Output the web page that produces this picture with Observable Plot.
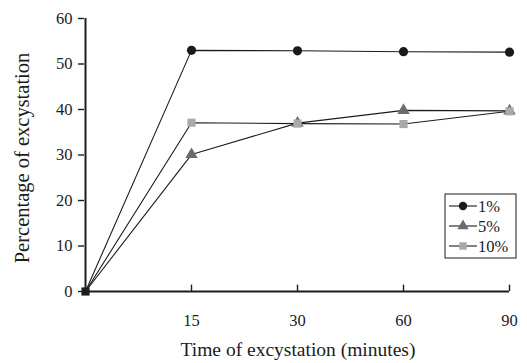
<!DOCTYPE html>
<html>
<head>
<meta charset="utf-8">
<script src="https://cdn.jsdelivr.net/npm/d3@7"></script>
<script src="https://cdn.jsdelivr.net/npm/@observablehq/plot@0.6"></script>
<style>
  html, body { margin: 0; padding: 0; background: #fff; }
  #chart { position: relative; width: 527px; height: 363px; }
  #chart svg text { font-family: "Liberation Serif", "Times New Roman", serif; }
</style>
</head>
<body>
<div id="chart"></div>
<script>
const times = ["0", "15", "30", "60", "90"];
const pct1 = [0, 53.0, 52.9, 52.7, 52.6];
const pct5 = [0, 30.1, 37.0, 39.8, 39.7];
const pct10 = [0, 37.1, 36.9, 36.8, 39.6];
const seriesNames = ["1%", "5%", "10%"];
const yTicks = [0, 10, 20, 30, 40, 50, 60];
const xTickLabels = ["15", "30", "60", "90"];

const seriesValues = [pct1, pct5, pct10];
const symbols = ["circle", "triangle", "square"];
const fills = ["#1a1a1a", "#6b6b6b", "#a9a9a9"];

const rows = [];
seriesNames.forEach((s, i) => {
  times.forEach((t, j) => rows.push({series: s, time: t, value: seriesValues[i][j]}));
});
const nonZero = rows.filter(d => d.time !== "0");
const origin = rows.filter(d => d.time === "0").slice(0, 1);

const ink = "#1c1c1c";
const serif = "Liberation Serif";

const plot = Plot.plot({
  width: 527,
  height: 363,
  marginLeft: 84,
  marginRight: 18,
  marginTop: 18,
  marginBottom: 72,
  style: {fontFamily: serif, fontSize: "16.5px", color: ink, background: "#fff"},
  x: {type: "point", domain: times, padding: 0},
  y: {domain: [0, 60]},
  symbol: {domain: seriesNames, range: symbols},
  color: {domain: seriesNames, range: fills},
  marks: [
    Plot.axisY({ticks: yTicks, tickSize: 6, tickPadding: 6, fontSize: 16.5, fontFamily: serif, label: null, stroke: ink, strokeWidth: 1.4}),
    Plot.axisX({ticks: xTickLabels, tickSize: 0, tickPadding: 23, fontSize: 16.5, fontFamily: serif, label: null}),
    Plot.text(["Percentage of excystation"], {frameAnchor: "left", rotate: -90, dx: -62, dy: 3, fontSize: 20.5, fontFamily: serif, fill: ink, textAnchor: "middle", lineAnchor: "middle"}),
    Plot.text(["Time of excystation (minutes)"], {frameAnchor: "bottom", dy: 58, dx: 1, fontSize: 19.5, fontFamily: serif, fill: ink, textAnchor: "middle", lineAnchor: "middle"}),
    Plot.ruleX(xTickLabels, {x: d => d, y1: 0, y2: 1.4, stroke: ink, strokeWidth: 1.4}),
    Plot.ruleX([times[0]], {x: d => d, y1: 0, y2: 60, stroke: ink, strokeWidth: 2}),
    Plot.ruleY([0], {stroke: ink, strokeWidth: 2.2}),
    Plot.line(rows, {x: "time", y: "value", z: "series", stroke: ink, strokeWidth: 1.1}),
    Plot.dot(nonZero, {x: "time", y: "value", symbol: "series", fill: "series", r: 4.6, stroke: "none"}),
    Plot.dot(origin, {x: "time", y: "value", symbol: () => "square", fill: ink, r: 4.6, stroke: "none"})
  ]
});
document.getElementById("chart").appendChild(plot);

// Legend box inside the plot area
const svg = d3.select(plot.tagName.toLowerCase() === "svg" ? plot : plot.querySelector("svg"));
const lg = svg.append("g").attr("transform", "translate(445,194)");
lg.append("rect").attr("x", 0).attr("y", 0).attr("width", 71).attr("height", 64)
  .attr("fill", "#fff").attr("stroke", ink).attr("stroke-width", 1);
const symGen = {circle: d3.symbolCircle, triangle: d3.symbolTriangle, square: d3.symbolSquare};
seriesNames.forEach((s, i) => {
  const cy = 12 + i * 20;
  lg.append("line").attr("x1", 4).attr("x2", 32).attr("y1", cy).attr("y2", cy)
    .attr("stroke", ink).attr("stroke-width", 1.1);
  lg.append("path").attr("transform", `translate(18,${cy})`)
    .attr("d", d3.symbol(symGen[symbols[i]], Math.PI * 4.2 * 4.2)())
    .attr("fill", fills[i]);
  lg.append("text").attr("x", 33).attr("y", cy).attr("dy", "0.35em")
    .attr("text-anchor", "start")
    .attr("font-size", 16.5).attr("fill", ink).text(s);
});
</script>
</body>
</html>
